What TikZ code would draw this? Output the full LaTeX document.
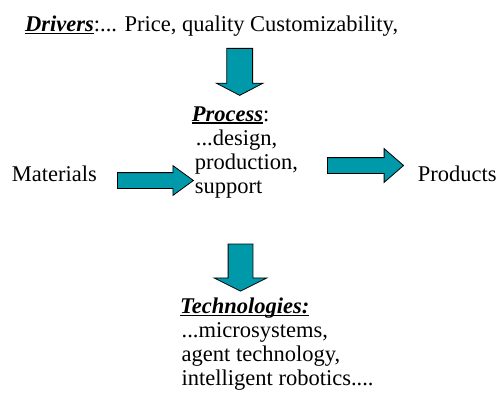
\documentclass[tikz,border=0pt]{standalone}
\usepackage{fontspec}
\setmainfont{Liberation Serif}
\usepackage{tikz}
\usetikzlibrary{shapes.arrows}
\usepackage{xcolor}
\definecolor{mfteal}{RGB}{0,153,170}
\tikzstyle{bigarrow} = [single arrow, draw=black, fill=mfteal, line width=0.8pt, inner xsep=0pt, single arrow head indent=0pt]
\tikzstyle{words} = [inner sep=0pt, align=left, font=\fontsize{22.5}{24}\selectfont]
% underline at a fixed depth, below the descenders
\newcommand{\ulword}[1]{\setbox0\hbox{#1}\rlap{\rule[-2.6pt]{\wd0}{1.4pt}}\box0}

\begin{document}
\begin{tikzpicture}[x=1pt, y=-1pt]
\useasboundingbox (0,0) rectangle (497,401);
% Texts (the multi-line ones sit on their last baseline)
\node (drv) [words, anchor=base west] at (25,31.7) {\ulword{\textbf{\textit{Drivers}}}:... Price, quality Customizability,};
\node (proc) [words, anchor=base west] at (191.7,193) {\ulword{\textbf{\textit{Process}}}:\\\hspace*{4pt}...design,\\\hspace*{3pt}production,\\\hspace*{3pt}support};
\node (mat) [words, anchor=base west] at (11.7,181.7) {Materials};
\node (prod) [words, anchor=base west] at (417.7,181.7) {Products};
\node (tech) [words, anchor=base west] at (180,385.7) {\ulword{\textbf{\textit{Technologies:}}}\\\hspace*{1.5pt}...microsystems,\\\hspace*{1.5pt}agent technology,\\\hspace*{1.5pt}intelligent robotics....};

% Block arrows
\node (down1) [bigarrow, rotate=-90, minimum height=47, inner ysep=12.5, single arrow head extend=10.5, single arrow tip angle=125] at (239.7,68.5) {};
\node (inarr) [bigarrow, minimum height=76, inner ysep=7.5, single arrow head extend=7, single arrow tip angle=72] at (150,180.5) {};
\node (outarr) [bigarrow, minimum height=76, inner ysep=7.5, single arrow head extend=9, single arrow tip angle=82] at (361,165.5) {};
\node (down2) [bigarrow, rotate=-90, minimum height=47, inner ysep=12, single arrow head extend=14, single arrow tip angle=127] at (240.5,264.5) {};
\end{tikzpicture}
\end{document}
